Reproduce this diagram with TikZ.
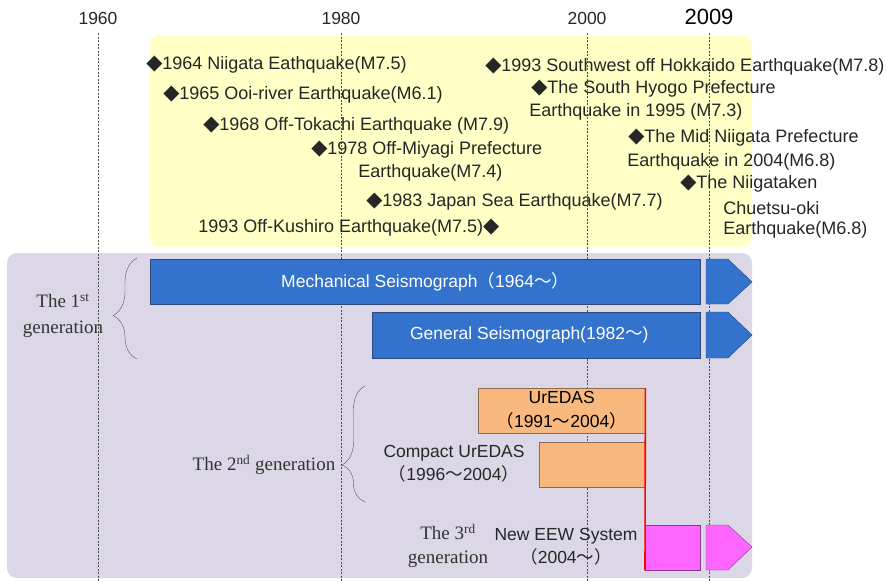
\documentclass[tikz,border=0pt]{standalone}
\usepackage{fontspec}
\setmainfont{Liberation Serif}
\newfontfamily\gothic{Liberation Sans}
\newfontfamily\cjk{Noto Sans CJK JP}
\newfontfamily\symb{DejaVu Sans}
\usetikzlibrary{positioning,decorations.pathreplacing}

\definecolor{quakebg}{HTML}{FFFFC6}
\definecolor{genbg}{HTML}{DCD7E6}
\definecolor{seisblue}{HTML}{3373CE}
\definecolor{seisedge}{HTML}{2B4878}
\definecolor{edasorange}{HTML}{F9B97E}
\definecolor{edasedge}{HTML}{8A6A50}
\definecolor{eewpink}{HTML}{FF66FF}
\definecolor{eewedge}{HTML}{8A3A8A}

\newcommand{\dia}{{\symb\fontsize{21}{22}\selectfont ◆}}
\newcommand{\wave}{{\cjk ～}}
\newcommand{\lp}{{\cjk （}}
\newcommand{\rp}{{\cjk ）}}

\begin{document}
\begin{tikzpicture}[x=1pt, y=-1pt, semithick]
        \tikzstyle{year}=[inner sep=0pt, font=\gothic\fontsize{17.5}{19}\selectfont, text=black!85]
        \tikzstyle{quake}=[anchor=west, inner sep=0pt, font=\gothic\fontsize{18}{22}\selectfont, text=black!85]
        \tikzstyle{gen}=[align=center, inner sep=0pt, font=\fontsize{19}{26}\selectfont, text=black!80]
        \tikzstyle{label}=[align=center, inner sep=0pt, font=\gothic\fontsize{17.5}{23}\selectfont, text=black!85]
        \tikzstyle{sysbar}=[anchor=north west, inner sep=0pt, align=center, font=\gothic\fontsize{17.5}{24}\selectfont]
        \tikzstyle{bluefill}=[fill=seisblue, draw=seisedge, thin]
        \tikzstyle{orangefill}=[fill=edasorange, draw=edasedge, thin]
        \tikzstyle{pinkfill}=[fill=eewpink, draw=eewedge, thin]
        \tikzstyle{gridline}=[thin, black!70, dash pattern=on 2pt off 1.5pt]
        \tikzstyle{gbrace}=[decorate, thin, black!65]

        \useasboundingbox (0,0) rectangle (886,581);

        % backgrounds
        \fill[quakebg, rounded corners=10pt] (150,35) rectangle (752,247);
        \fill[genbg, rounded corners=10pt] (7,253) rectangle (752,578);

        % time axis
        \node[year]     (Y1960) at (98,18)      {1960};
        \node[year]     (Y1980) at (341,18)     {1980};
        \node[year]     (Y2000) at (587,18)     {2000};
        \node[year, font=\gothic\fontsize{22}{24}\selectfont, text=black] (Y2009) at (709,17) {2009};
        \draw[gridline] (98,33) -- (98,581);
        \draw[gridline] (341,33) -- (341,581);
        \draw[gridline] (587,33) -- (587,581);
        \draw[gridline] (709,33) -- (709,581);

        % earthquakes
        \node[quake]    (Q1964) at (146,65)     {\dia1964 Niigata Eathquake(M7.5)};
        \node[quake]    (Q1965) at (163,95)     {\dia1965 Ooi-river Earthquake(M6.1)};
        \node[quake]    (Q1968) at (203,126)    {\dia1968 Off-Tokachi Earthquake (M7.9)};
        \node[quake]    (Q1978) at (311,150)    {\dia1978 Off-Miyagi Prefecture};
        \node[quake]    (Q1978b) at (358,173)   {Earthquake(M7.4)};
        \node[quake]    (Q1983) at (366,202)    {\dia1983 Japan Sea Earthquake(M7.7)};
        \node[quake]    (Q1993k) at (198,228)   {1993 Off-Kushiro Earthquake(M7.5)\dia};
        \node[quake]    (Q1993h) at (485,67)    {\dia1993 Southwest off Hokkaido Earthquake(M7.8)};
        \node[quake]    (Q1995) at (531,89)     {\dia The South Hyogo Prefecture};
        \node[quake]    (Q1995b) at (529,112)   {Earthquake in 1995 (M7.3)};
        \node[quake]    (Q2004) at (628,138)    {\dia The Mid Niigata Prefecture};
        \node[quake]    (Q2004b) at (627,162)   {Earthquake in 2004(M6.8)};
        \node[quake]    (Q2007) at (680,184)    {\dia The Niigataken};
        \node[quake]    (Q2007b) at (723,208)   {Chuetsu-oki};
        \node[quake]    (Q2007c) at (723,230)   {Earthquake(M6.8)};

        % 1st generation
        \node[sysbar, bluefill, text=white, minimum width=550pt, minimum height=45pt] (Mech) at (150,259) {Mechanical Seismograph\lp 1964\wave\rp};
        \node[sysbar, bluefill, text=white, minimum width=328pt, minimum height=46pt] (General) at (372,312) {General Seismograph(1982\wave)\hspace{14pt}};
        \draw[bluefill] (706,259) -- (728,259) -- (752,282) -- (728,304) -- (706,304) -- cycle;
        \draw[bluefill] (706,312) -- (728,312) -- (752,335) -- (728,358) -- (706,358) -- cycle;
        \draw[gbrace, decoration={brace, amplitude=24pt, aspect=0.43}] (137,359) -- (137,258);
        \node[gen]      (Gen1) at (63,316)      {The 1\textsuperscript{st}\\generation};

        % 2nd generation
        \node[sysbar, orangefill, minimum width=167pt, minimum height=45pt] (UrEDAS) at (478,388) {UrEDAS\\\lp 1991\wave 2004\rp};
        \node[sysbar, orangefill, minimum width=106pt, minimum height=45pt] (Compact) at (539,442) {};
        \node[label]    (CompactLbl) at (454,464)   {Compact UrEDAS\\\lp 1996\wave 2004\rp};
        \draw[gbrace, decoration={brace, amplitude=23pt, aspect=0.32}] (365,502) -- (365,386);
        \node[gen]      (Gen2) at (264,465)     {The 2\textsuperscript{nd} generation};

        % 3rd generation
        \node[sysbar, pinkfill, minimum width=55pt, minimum height=45pt] (EEW) at (645,525) {};
        \draw[pinkfill] (706,525) -- (728,525) -- (752,547) -- (728,570) -- (706,570) -- cycle;
        \node[label]    (EEWLbl) at (566,547)   {New EEW System\\\lp 2004\wave\rp};
        \node[gen, font=\fontsize{19}{24}\selectfont] (Gen3) at (448,546) {The 3\textsuperscript{rd}\\generation};
        \draw[red, line width=1.6pt] (UrEDAS.north east) -- (EEW.south west);
\end{tikzpicture}
\end{document}
